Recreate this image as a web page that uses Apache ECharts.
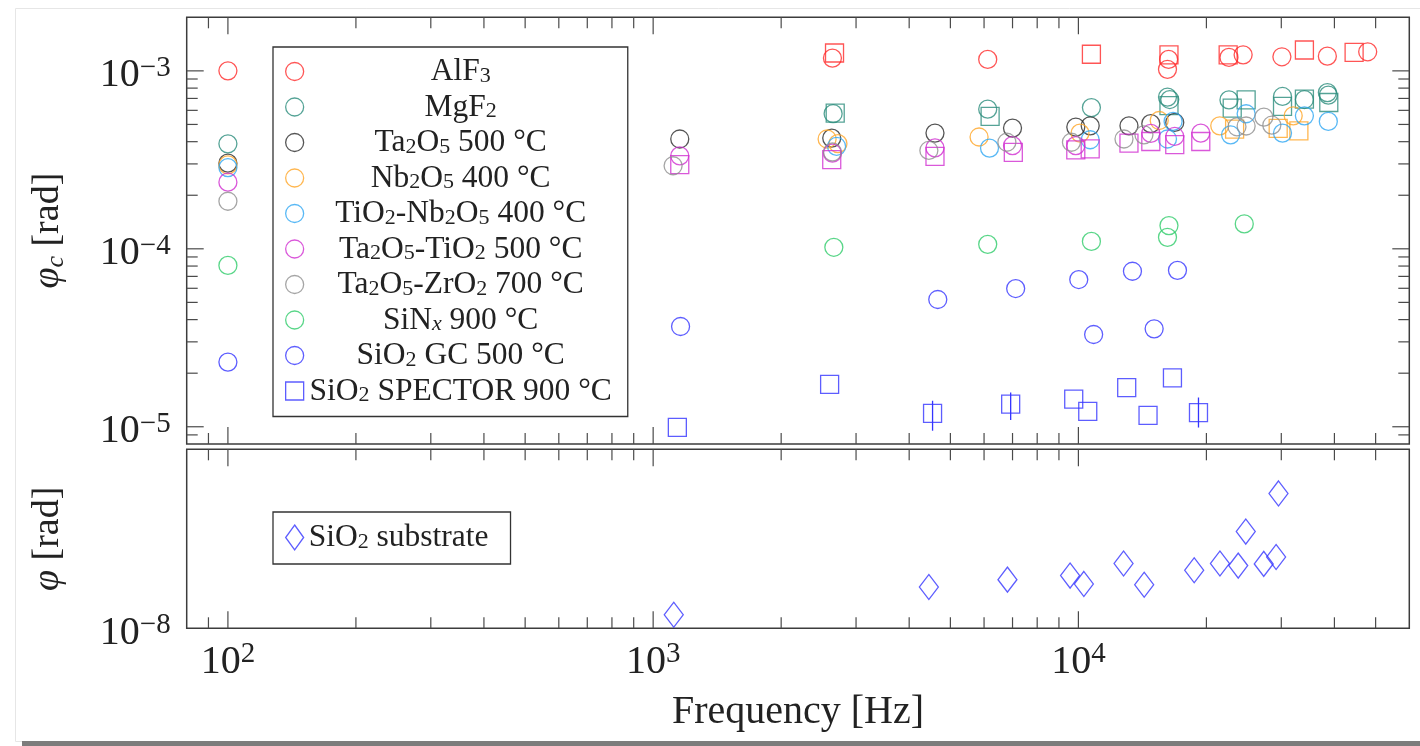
<!DOCTYPE html>
<html>
<head>
<meta charset="utf-8">
<title>Mechanical loss vs frequency</title>
<script src="https://cdn.jsdelivr.net/npm/echarts@6/dist/echarts.min.js"></script>
<style>
  html, body { margin: 0; padding: 0; background: #fff; }
  #chart { width: 1420px; height: 746px; }
</style>
</head>
<body>
<div id="chart"></div>
<script>
var FONT = "'Liberation Serif', 'DejaVu Serif', serif";

// ---- data: [frequency Hz, loss angle rad] ----
var alf3Circles = [[100, 1.0e-3], [2640, 1.18e-3], [6120, 1.16e-3], [16300, 1.16e-3], [16200, 1.02e-3],
  [22600, 1.19e-3], [24400, 1.23e-3], [30100, 1.20e-3], [38500, 1.21e-3], [47900, 1.28e-3]];
var alf3Squares = [[2670, 1.26e-3], [10730, 1.24e-3], [16330, 1.23e-3], [22500, 1.23e-3], [34000, 1.31e-3], [44500, 1.27e-3]];

var mgf2Circles = [[100, 3.89e-4], [2650, 5.75e-4], [6120, 6.09e-4], [10730, 6.22e-4], [16200, 7.12e-4], [16400, 6.9e-4],
  [22600, 6.87e-4], [30200, 7.18e-4], [34000, 6.9e-4], [38500, 7.55e-4], [38700, 7.3e-4]];
var mgf2Squares = [[2680, 5.79e-4], [6200, 5.55e-4], [16330, 6.37e-4], [23000, 6.18e-4], [24800, 6.87e-4],
  [30200, 6.31e-4], [34000, 6.93e-4], [38800, 6.64e-4]];

var ta2o5 = [[100, 3.03e-4], [1155, 4.14e-4], [2630, 4.19e-4], [4600, 4.47e-4], [7000, 4.77e-4], [9860, 4.83e-4],
  [10660, 4.91e-4], [13150, 4.91e-4], [14800, 5.05e-4], [16850, 5.13e-4]];

var nb2o5Circles = [[100, 2.96e-4], [2565, 4.14e-4], [2720, 3.9e-4], [5840, 4.25e-4], [10090, 4.47e-4], [15490, 5.26e-4],
  [21500, 4.91e-4], [32000, 5.59e-4]];
var nb2o5Squares = [[23300, 4.7e-4], [29500, 4.75e-4], [33000, 4.6e-4]];

var tio2Nb2o5 = [[100, 2.86e-4], [2700, 3.76e-4], [6180, 3.68e-4], [10660, 4.10e-4], [16200, 4.14e-4], [16700, 5.2e-4],
  [22800, 4.37e-4], [24800, 5.74e-4], [30200, 4.47e-4], [34000, 5.59e-4], [38700, 5.2e-4]];

var ta2o5Tio2Circles = [[100, 2.37e-4], [1155, 3.33e-4], [2640, 3.45e-4], [4600, 3.69e-4], [7000, 3.8e-4], [9860, 3.8e-4],
  [14800, 4.45e-4], [16850, 4.28e-4], [19400, 4.47e-4]];
var ta2o5Tio2Squares = [[1155, 2.97e-4], [2630, 3.17e-4], [4600, 3.31e-4], [7030, 3.48e-4], [9860, 3.6e-4], [10660, 3.64e-4],
  [13150, 3.93e-4], [14800, 4.01e-4], [16850, 3.85e-4], [19400, 4.01e-4]];

var ta2o5Zro2 = [[100, 1.85e-4], [1114, 2.93e-4], [2640, 3.5e-4], [4450, 3.57e-4], [6790, 3.97e-4], [9630, 3.97e-4],
  [12800, 4.14e-4], [14260, 4.37e-4], [23600, 4.85e-4], [24800, 4.9e-4], [27300, 5.5e-4], [28500, 4.95e-4]];

var sinx = [[100, 8.07e-5], [2660, 1.02e-4], [6120, 1.06e-4], [10730, 1.10e-4], [16330, 1.35e-4], [16200, 1.16e-4], [24550, 1.38e-4]];

var sio2Gc = [[100, 2.31e-5], [1160, 3.66e-5], [4670, 5.19e-5], [7120, 5.98e-5], [10020, 6.72e-5], [10860, 3.30e-5],
  [13400, 7.48e-5], [15070, 3.55e-5], [17100, 7.57e-5]];

var sio2Spector = [[1140, 9.93e-6], [2600, 1.73e-5], [4540, 1.19e-5], [6930, 1.34e-5], [9750, 1.43e-5], [10520, 1.22e-5],
  [12990, 1.66e-5], [14580, 1.16e-5], [16640, 1.88e-5], [19160, 1.20e-5]];
// [frequency, low, high]
var sio2SpectorErr = [[4540, 9.5e-6, 1.40e-5], [6930, 1.09e-5, 1.56e-5], [19160, 9.9e-6, 1.46e-5]];

// bottom panel
var substrate = [[1118, 1.19e-8], [4450, 1.70e-8], [6810, 1.87e-8], [9560, 1.97e-8], [10300, 1.77e-8], [12770, 2.30e-8],
  [14280, 1.75e-8], [18720, 2.11e-8], [21520, 2.30e-8], [23760, 2.24e-8], [24750, 3.47e-8], [27280, 2.29e-8],
  [29170, 2.50e-8], [29550, 5.67e-8]];

// ---- ticks ----
var xMajorTicks = [100, 1000, 10000];
var xMinorTicks = [90, 200, 300, 400, 500, 600, 700, 800, 900, 2000, 3000, 4000, 5000, 6000, 7000, 8000, 9000,
  20000, 30000, 40000, 50000];
var yMajorTicks = [1e-5, 1e-4, 1e-3];
var yMinorTicks = [9e-6, 2e-5, 3e-5, 4e-5, 5e-5, 6e-5, 7e-5, 8e-5, 9e-5, 2e-4, 3e-4, 4e-4, 5e-4, 6e-4, 7e-4, 8e-4, 9e-4];

var legendNames = ['AlF_3', 'MgF_2', 'Ta_2O_5 500 °C', 'Nb_2O_5 400 °C', 'TiO_2-Nb_2O_5 400 °C', 'Ta_2O_5-TiO_2 500 °C',
  'Ta_2O_5-ZrO_2 700 °C', 'SiN_x 900 °C', 'SiO_2 GC 500 °C', 'SiO_2 SPECTOR 900 °C'];

var C = {
  red: '#ff2b2b', teal: '#2a8c7c', black: '#2a2a2a', orange: '#ffa526', lblue: '#2ea6f2',
  magenta: '#d12ed1', gray: '#8e8e8e', green: '#2fcc6a', blue: '#3434ff'
};

// "Ta_2O_5" -> rich text with subscripts
function toRich(name) {
  var s = name.replace(/_x/g, '}{si|x}{m|').replace(/_(\d)/g, '}{s|$1}{m|');
  return '{m|' + s + '}';
}

function powLabel(v, onlyExp) {
  var l = Math.log10(v), e = Math.round(l);
  if (Math.abs(l - e) > 1e-6) return '';
  if (onlyExp !== undefined && e !== onlyExp) return '';
  return '{b|10}{s|' + (e < 0 ? '\u2212' + (-e) : e) + '}';
}

var labelRich = {
  b: { fontFamily: FONT, fontSize: 40, lineHeight: 42, verticalAlign: 'bottom', color: '#222' },
  s: { fontFamily: FONT, fontSize: 29, lineHeight: 28, verticalAlign: 'top', color: '#222' }
};
var nameRich = {
  i: { fontFamily: FONT, fontSize: 38, fontStyle: 'italic', lineHeight: 40, verticalAlign: 'top', color: '#222' },
  si: { fontFamily: FONT, fontSize: 26, fontStyle: 'italic', lineHeight: 22, verticalAlign: 'bottom', color: '#222' },
  m: { fontFamily: FONT, fontSize: 38, lineHeight: 40, verticalAlign: 'top', color: '#222' }
};
var legendRich = {
  m: { fontFamily: FONT, fontSize: 31.5, lineHeight: 31, verticalAlign: 'top', align: 'center', color: '#222' },
  s: { fontFamily: FONT, fontSize: 22, lineHeight: 18, verticalAlign: 'bottom', align: 'center', color: '#222' },
  si: { fontFamily: FONT, fontSize: 22, fontStyle: 'italic', lineHeight: 18, verticalAlign: 'bottom', align: 'center', color: '#222' }
};

function scatter(name, data, symbol, color, grid) {
  return {
    type: 'scatter', name: name, data: data, symbol: symbol,
    symbolSize: symbol === 'diamond' ? [19, 25] : 18,
    symbolKeepAspect: false,
    xAxisIndex: grid || 0, yAxisIndex: grid || 0,
    itemStyle: { color: 'rgba(0,0,0,0)', borderColor: color, borderWidth: 1.3 },
    emphasis: { disabled: true }
  };
}

// axis ticks drawn through the axis scales
function tickSeries(grid, axis, majors, minors, ref) {
  var data = majors.map(function (v) { return axis === 'x' ? [v, ref, 1] : [ref, v, 1]; })
    .concat(minors.map(function (v) { return axis === 'x' ? [v, ref, 0] : [ref, v, 0]; }));
  return {
    type: 'custom', xAxisIndex: grid, yAxisIndex: grid, silent: true, clip: false, z: 1,
    data: data,
    renderItem: function (params, api) {
      var cs = params.coordSys;
      var len = api.value(2) ? 17 : 11;
      var st = { stroke: '#4a4a4a', lineWidth: 1.2 };
      var p = api.coord([api.value(0), api.value(1)]);
      if (axis === 'x') {
        return { type: 'group', children: [
          { type: 'line', shape: { x1: p[0], y1: cs.y, x2: p[0], y2: cs.y + len }, style: st },
          { type: 'line', shape: { x1: p[0], y1: cs.y + cs.height - len, x2: p[0], y2: cs.y + cs.height }, style: st }
        ] };
      }
      return { type: 'group', children: [
        { type: 'line', shape: { x1: cs.x, y1: p[1], x2: cs.x + len, y2: p[1] }, style: st },
        { type: 'line', shape: { x1: cs.x + cs.width - len, y1: p[1], x2: cs.x + cs.width, y2: p[1] }, style: st }
      ] };
    }
  };
}

var myChart = echarts.init(document.getElementById('chart'));
myChart.setOption({
  animation: false,
  backgroundColor: '#fff',
  graphic: [
    { type: 'rect', silent: true, z: -10, shape: { x: 15.5, y: 8.5, width: 1420, height: 733 },
      style: { fill: 'none', stroke: '#e6e6e6', lineWidth: 1 } },
    { type: 'rect', silent: true, shape: { x: 22, y: 741, width: 1400, height: 5 }, style: { fill: '#7c7c7c' } }
  ],
  grid: [
    { left: 186.7, top: 17.3, width: 1222.6, height: 426.7, show: true, borderColor: '#3c3c3c', borderWidth: 1.5,
      containLabel: false, outerBoundsMode: 'none' },
    { left: 186.7, top: 449.3, width: 1222.6, height: 179, show: true, borderColor: '#3c3c3c', borderWidth: 1.5,
      containLabel: false, outerBoundsMode: 'none' }
  ],
  xAxis: [
    { gridIndex: 0, type: 'log', min: 80, max: 60000,
      axisLine: { show: false }, axisTick: { show: false }, splitLine: { show: false }, axisLabel: { show: false } },
    { gridIndex: 1, type: 'log', min: 80, max: 60000,
      axisLine: { show: false }, axisTick: { show: false }, splitLine: { show: false },
      axisLabel: { margin: 12, formatter: function (v) { return powLabel(v); }, rich: labelRich },
      name: 'Frequency [Hz]', nameLocation: 'middle', nameGap: 62,
      nameTextStyle: { fontFamily: FONT, fontSize: 40, lineHeight: 44, color: '#222' } }
  ],
  yAxis: [
    { gridIndex: 0, type: 'log', min: 8e-6, max: 2e-3,
      axisLine: { show: false }, axisTick: { show: false }, splitLine: { show: false },
      axisLabel: { margin: 16, padding: [8, 0, 0, 0], formatter: function (v) { return powLabel(v); }, rich: labelRich },
      name: '{i|φ}{si|c}{m| [rad]}', nameLocation: 'middle', nameRotate: 90, nameGap: 118,
      nameTextStyle: { rich: nameRich } },
    { gridIndex: 1, type: 'log', min: 1e-8, max: 1e-7,
      axisLine: { show: false }, axisTick: { show: false }, splitLine: { show: false },
      axisLabel: { margin: 16, padding: [8, 0, 0, 0], formatter: function (v) { return powLabel(v, -8); }, rich: labelRich },
      name: '{i|φ}{m| [rad]}', nameLocation: 'middle', nameRotate: 90, nameGap: 118,
      nameTextStyle: { rich: nameRich } }
  ],
  legend: [
    { orient: 'vertical', left: 273, top: 47, data: legendNames, selectedMode: false,
      itemWidth: 18, itemHeight: 18, itemGap: 3.5, padding: [9, 16, 9, 12],
      borderColor: '#333', borderWidth: 1.3, backgroundColor: '#fff',
      itemStyle: { borderWidth: 1.3 },
      textStyle: { width: 304, rich: legendRich },
      formatter: toRich },
    { orient: 'vertical', left: 273, top: 512, data: ['SiO_2 substrate'], selectedMode: false,
      itemWidth: 18, itemHeight: 25, padding: [10, 22, 10, 12],
      borderColor: '#333', borderWidth: 1.3, backgroundColor: '#fff',
      itemStyle: { borderWidth: 1.3 },
      textStyle: { rich: legendRich },
      formatter: toRich }
  ],
  series: [
    tickSeries(0, 'x', xMajorTicks, xMinorTicks, 1e-4),
    tickSeries(0, 'y', yMajorTicks, yMinorTicks, 1000),
    tickSeries(1, 'x', xMajorTicks, xMinorTicks, 2e-8),
    scatter('AlF_3', alf3Circles, 'circle', C.red),
    scatter('AlF_3 squares', alf3Squares, 'rect', C.red),
    scatter('MgF_2', mgf2Circles, 'circle', C.teal),
    scatter('MgF_2 squares', mgf2Squares, 'rect', C.teal),
    scatter('Ta_2O_5 500 °C', ta2o5, 'circle', C.black),
    scatter('Nb_2O_5 400 °C', nb2o5Circles, 'circle', C.orange),
    scatter('Nb_2O_5 squares', nb2o5Squares, 'rect', C.orange),
    scatter('TiO_2-Nb_2O_5 400 °C', tio2Nb2o5, 'circle', C.lblue),
    scatter('Ta_2O_5-TiO_2 500 °C', ta2o5Tio2Circles, 'circle', C.magenta),
    scatter('Ta_2O_5-TiO_2 squares', ta2o5Tio2Squares, 'rect', C.magenta),
    scatter('Ta_2O_5-ZrO_2 700 °C', ta2o5Zro2, 'circle', C.gray),
    scatter('SiN_x 900 °C', sinx, 'circle', C.green),
    scatter('SiO_2 GC 500 °C', sio2Gc, 'circle', C.blue),
    scatter('SiO_2 SPECTOR 900 °C', sio2Spector, 'rect', C.blue),
    {
      type: 'custom', name: 'SPECTOR error', xAxisIndex: 0, yAxisIndex: 0, silent: true,
      data: sio2SpectorErr,
      renderItem: function (params, api) {
        var lo = api.coord([api.value(0), api.value(1)]);
        var hi = api.coord([api.value(0), api.value(2)]);
        return { type: 'line', shape: { x1: lo[0], y1: lo[1], x2: hi[0], y2: hi[1] },
          style: { stroke: C.blue, lineWidth: 1.3 } };
      }
    },
    scatter('SiO_2 substrate', substrate, 'diamond', C.blue, 1)
  ]
});
</script>
</body>
</html>
